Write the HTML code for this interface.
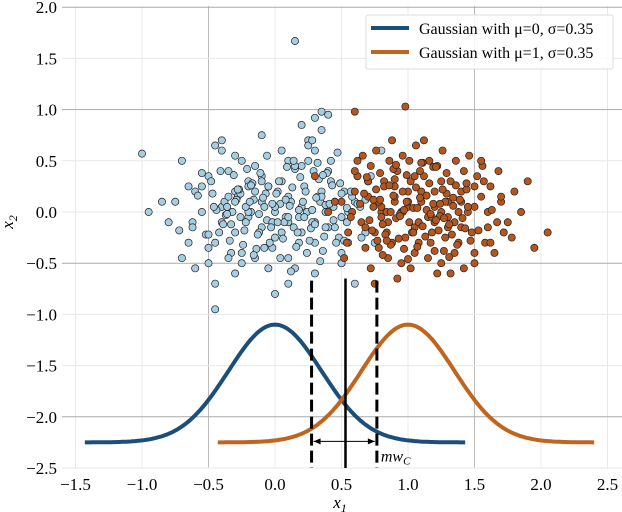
<!DOCTYPE html>
<html><head><meta charset="utf-8">
<style>
body{margin:0;background:#fff;}
svg{display:block;font-family:"Liberation Serif",serif;}
</style></head>
<body>
<svg id="chart" width="622" height="512" viewBox="0 0 622 512" xmlns="http://www.w3.org/2000/svg">
<g id="grid"></g>
<g id="ticks"></g>
<g id="pts"></g>
<g id="curves"></g>
<g id="marks"></g>
<text x="340" y="508" font-size="17" font-style="italic" text-anchor="middle">x<tspan font-size="12" dy="4">1</tspan></text>
<text transform="translate(13,222) rotate(-90)" font-size="17" font-style="italic" text-anchor="middle">x<tspan font-size="12" dy="4">2</tspan></text>
<g>
<rect x="366" y="15" width="247" height="54" fill="#fff" fill-opacity="0.85" stroke="#ddd" rx="2"/>
<line x1="371" y1="28" x2="409" y2="28" stroke="#1b4f7a" stroke-width="4"/>
<text x="419" y="34" font-size="16">Gaussian with μ=0, σ=0.35</text>
<line x1="371" y1="52" x2="409" y2="52" stroke="#c0651f" stroke-width="4"/>
<text x="419" y="58" font-size="16">Gaussian with μ=1, σ=0.35</text>
</g>
</svg>
<script>
const xTicks=[-1.5,-1.0,-0.5,0.0,0.5,1.0,1.5,2.0,2.5];
const yTicks=[2.0,1.5,1.0,0.5,0.0,-0.5,-1.0,-1.5,-2.0,-2.5];
const gaussMu=[0,1];
const gaussSigma=[0.35,0.35];
const gaussPeak=[-1.1,-1.1];
const gaussBase=[-2.25,-2.25];
const gaussRange=[[-1.43,1.43],[-0.43,2.4]];
const thresholds=[0.275,0.53,0.766];
const thresholdTop=[-0.67,-0.65,-0.67];
const arrowY=-2.24;
const blueX=[-1.0,0.15,0.35,0.4,0.3,-0.45,-0.45,-0.7,-0.62,-0.4,-0.3,-0.2,-0.1,0.0,0.1,0.2,0.3,-0.5,-0.35,-0.25,-0.15,-0.05,0.05,0.15,0.25,0.35,0.45,0.55,-0.6,-0.55,-0.4,-0.3,-0.2,-0.1,0.0,0.1,0.2,0.3,0.4,0.5,0.6,-0.75,-0.65,-0.5,-0.38,-0.28,-0.18,-0.08,0.02,0.12,0.22,0.32,0.42,0.52,0.62,0.7,-0.8,-0.55,-0.45,-0.33,-0.22,-0.12,-0.02,0.08,0.18,0.28,0.38,0.48,0.58,0.68,-0.7,-0.6,-0.48,-0.36,-0.26,-0.16,-0.06,0.04,0.14,0.24,0.34,0.44,0.54,0.64,-0.5,-0.4,-0.3,-0.2,-0.1,0.0,0.1,0.2,0.3,0.4,0.5,-0.45,-0.35,-0.25,-0.15,-0.05,0.05,0.15,0.25,0.35,-0.55,-0.3,-0.1,0.1,0.3,0.5,0.6,0.75,0.8,-0.2,0.0,0.2,-0.4,0.45,-0.65,0.55,0.25,-0.15,0.05,0.15,-0.35,0.35,-0.05,-0.25,0.65,0.72,-0.85,-0.95,0.5,0.38,0.1,-0.02,0.28,
-0.42,-0.32,-0.22,-0.12,-0.02,0.08,0.18,0.28,0.38,-0.37,-0.27,-0.17,-0.07,0.03,0.13,0.23,0.33,0.43,-0.47,-0.33,-0.23,-0.13,-0.03,0.07,0.17,0.27,0.37,-0.39,-0.29,-0.19,-0.09,0.01,0.11,0.21,0.31,0.41,-0.44,-0.34,-0.24,-0.14,-0.04,0.06,0.16,0.26,0.36,0.46,-0.52,-0.41,-0.31,-0.21,-0.11,0.09,0.19,0.29,0.39,0.49,-0.58,-0.26,-0.16,0.04,0.24,0.34,0.44,0.54,-0.36,-0.06,0.14,0.32,0.47,-0.46,-0.28,-0.08,0.12,0.22,0.42,0.57,-0.62,-0.18,0.02,0.18,0.36,0.52,0.62,-0.72,-0.5,-0.3,-0.1,0.1,0.3,0.5,0.68];
const blueY=[0.57,1.67,0.98,0.95,0.92,-0.7,-0.95,-0.45,-0.1,0.05,0.2,0.3,0.1,0.0,0.15,0.05,-0.1,0.35,0.4,0.5,0.45,0.25,0.3,0.42,0.5,0.2,0.1,0.0,0.2,0.0,-0.1,-0.2,-0.05,-0.15,-0.25,-0.1,-0.2,-0.3,-0.15,-0.05,0.1,0.1,-0.3,-0.35,0.1,0.15,0.0,0.05,0.2,0.1,0.25,0.15,0.3,0.2,0.35,0.3,-0.1,0.25,-0.3,-0.4,-0.1,-0.2,-0.35,-0.05,-0.3,-0.1,0.0,-0.25,0.15,-0.2,0.5,-0.55,0.3,0.05,0.18,0.12,-0.08,0.08,-0.15,0.0,0.1,0.05,-0.1,0.05,-0.5,0.6,0.55,0.25,0.35,0.05,-0.45,0.45,0.6,0.4,-0.4,0.65,0.15,-0.5,-0.45,-0.55,0.6,-0.55,0.7,0.8,0.38,-0.6,0.75,0.5,-0.6,-0.5,-0.7,-0.3,0.6,0.0,-0.8,0.85,0.7,-0.15,0.25,-0.3,0.65,0.2,-0.2,0.45,-0.45,0.15,0.25,-0.4,-0.25,0.35,0.1,0.0,-0.5,-0.15,-0.7,-0.1,0.7,-0.2,
0.0,0.05,-0.02,0.08,0.12,-0.05,0.02,0.07,-0.03,0.22,0.28,0.18,0.3,0.24,0.2,0.32,0.26,0.18,-0.12,-0.18,-0.22,-0.15,-0.1,-0.2,-0.16,-0.24,-0.12,0.12,0.1,0.14,0.18,0.06,0.1,0.14,0.08,0.02,-0.28,-0.32,-0.36,-0.3,-0.26,-0.34,-0.28,-0.38,-0.3,-0.22,0.4,0.36,0.42,0.38,0.44,0.34,0.4,0.38,0.28,0.16,-0.05,-0.42,-0.45,-0.4,-0.48,-0.08,0.04,-0.02,0.55,0.5,0.48,0.58,0.05,0.22,-0.35,-0.58,-0.05,0.5,0.2,-0.15,0.26,-0.1,0.02,0.36,-0.28,0.08,-0.18,-0.22,0.1,0.3,-0.05,-0.12,0.18,0.12,-0.25,-0.02,-0.35,0.25];
const orangeX=[0.98,0.6,1.6,2.05,1.65,1.5,0.75,0.5,0.6,0.7,0.8,0.9,1.0,1.1,1.2,1.3,1.4,1.5,0.55,0.65,0.75,0.85,0.95,1.05,1.15,1.25,1.35,1.45,1.55,1.7,0.62,0.72,0.82,0.92,1.02,1.12,1.22,1.32,1.42,1.52,1.62,0.45,0.68,0.78,0.88,0.98,1.08,1.18,1.28,1.38,1.48,1.58,1.75,0.58,0.7,0.8,0.9,1.0,1.1,1.2,1.3,1.4,1.5,1.8,0.66,0.76,0.86,0.96,1.06,1.16,1.26,1.36,1.46,1.56,0.85,0.95,1.05,1.15,1.25,1.35,0.72,0.82,1.32,1.42,1.85,1.9,0.4,0.3,0.52,1.12,0.88,1.22,1.02,0.92,1.62,1.68,1.78,0.78,1.45,1.08,0.96,1.18,1.28,0.68,0.84,1.38,1.72,0.62,1.55,1.95,1.0,1.1,0.9,1.2,0.8,1.3,1.4,0.7,1.05,1.25,
0.74,0.84,0.94,1.04,1.14,1.24,1.34,0.79,0.89,0.99,1.09,1.19,1.29,1.39,0.71,0.81,0.91,1.01,1.11,1.21,1.31,1.41,0.76,0.86,0.96,1.06,1.16,1.26,1.36,0.73,0.83,0.93,1.03,1.13,1.23,1.33,1.43,0.64,0.77,0.87,0.97,1.07,1.17,1.27,1.37,1.47,0.69,0.79,0.89,0.99,1.09,1.19,1.29,0.57,0.67,1.53,1.63,1.44,0.91,1.01,1.11,1.21,0.81,1.31,0.87,1.07,1.17,0.97,1.27,1.57,1.67,0.54,0.74,1.34,1.14,0.94,1.04,1.24,0.84,1.44,1.6,1.7,0.6,1.5,0.9,1.2,1.0,1.1];
const orangeY=[1.03,0.98,0.0,-0.2,-0.4,-0.5,-0.7,0.1,0.2,0.3,0.0,0.1,0.2,0.15,0.05,-0.05,0.1,0.25,-0.2,-0.1,-0.2,-0.1,0.0,-0.15,-0.05,0.0,-0.1,0.0,0.15,0.1,0.35,0.45,0.3,0.4,0.3,0.35,0.45,0.3,0.4,0.35,0.25,0.1,-0.35,-0.35,-0.3,-0.25,-0.3,-0.2,-0.25,-0.3,-0.2,-0.3,-0.1,0.0,0.15,0.05,0.15,0.05,0.1,0.2,0.1,0.2,0.05,0.2,0.55,0.6,0.5,0.55,0.65,0.5,0.6,0.5,0.55,0.45,-0.45,-0.5,-0.4,-0.45,-0.5,-0.4,-0.55,0.25,-0.6,-0.55,0.0,0.3,0.0,0.35,-0.45,0.7,0.7,-0.6,-0.55,-0.65,-0.3,0.4,-0.25,0.1,0.05,-0.1,0.0,-0.05,0.1,-0.15,-0.2,0.0,-0.2,0.5,0.5,-0.35,0.1,0.2,0.25,-0.1,-0.05,-0.15,-0.15,0.3,0.35,0.3,
0.05,0.0,-0.02,0.04,0.02,-0.04,0.06,0.12,0.16,0.1,0.14,0.08,0.18,0.12,-0.08,-0.12,-0.06,-0.1,-0.14,-0.08,-0.12,-0.06,0.22,0.26,0.2,0.24,0.28,0.22,0.26,-0.18,-0.22,-0.26,-0.2,-0.24,-0.18,-0.22,-0.16,0.08,-0.28,-0.32,-0.36,-0.34,-0.3,-0.38,-0.32,-0.28,0.34,0.38,0.42,0.36,0.4,0.44,0.38,-0.05,0.18,-0.18,0.02,0.22,0.46,0.5,0.48,0.44,-0.42,-0.44,0.0,0.04,-0.02,0.02,-0.06,0.3,-0.1,-0.3,0.12,0.14,0.16,-0.04,-0.2,0.08,-0.28,0.28,-0.15,0.15,0.4,-0.4,0.32,-0.38,-0.46,0.48];
const NS='http://www.w3.org/2000/svg';
const X=v=>275+133*v, Y=v=>212-102.4*v;
function mk(tag,parent,attrs){const e=document.createElementNS(NS,tag);for(const k in attrs)e.setAttribute(k,attrs[k]);parent.appendChild(e);return e;}
const grid=document.getElementById('grid'),ticks=document.getElementById('ticks');
const darkX=[2,6],darkY=[0,2,5,8];
xTicks.forEach((t,i)=>{const l=mk('line',grid,{x1:X(t),x2:X(t),y1:6,y2:468,stroke:darkX.includes(i)?'#bbb':'#e8e8e8','stroke-width':1});


const tx=mk('text',ticks,{x:X(t),y:490,'font-size':17,'text-anchor':'middle'});tx.textContent=(t<0?'\u2212':'')+Math.abs(t).toFixed(1);

});
yTicks.forEach((t,i)=>{const l=mk('line',grid,{x1:62,x2:622,y1:Y(t),y2:Y(t),stroke:darkY.includes(i)?'#aaa':'#e8e8e8','stroke-width':1});


const tx=mk('text',ticks,{x:57,y:Y(t)+6,'font-size':17,'text-anchor':'end'});tx.textContent=(t<0?'\u2212':'')+Math.abs(t).toFixed(1);

});
const pts=document.getElementById('pts');
function drawPts(xs,ys,fill,name){xs.forEach((x,i)=>{const c=mk('circle',pts,{cx:X(x),cy:Y(ys[i]),r:3.6,fill:fill,stroke:'#222','stroke-width':0.7});

});}
drawPts(blueX,blueY,'#a6cee3','blue-point');
drawPts(orangeX,orangeY,'#b5561f','orange-point');
const curves=document.getElementById('curves');const cols=['#1b4f7a','#c0651f'];
gaussMu.forEach((mu,k)=>{let d='';const [a,b]=gaussRange[k];for(let i=0;i<=200;i++){const x=a+(b-a)*i/200;const y=gaussBase[k]+(gaussPeak[k]-gaussBase[k])*Math.exp(-((x-mu)**2)/(2*gaussSigma[k]**2));d+=(i?'L':'M')+X(x).toFixed(1)+' '+Y(y).toFixed(1);}
const p=mk('path',curves,{d:d,fill:'none',stroke:cols[k],'stroke-width':4});

});
const marks=document.getElementById('marks');
thresholds.forEach((t,i)=>{const l=mk('line',marks,{x1:X(t),x2:X(t),y1:Y(thresholdTop[i]),y2:468,stroke:'#000','stroke-width':i===1?2.5:3,'stroke-dasharray':i===1?'':'12 5'});

});
const ay=Y(arrowY);
const ar=mk('line',marks,{x1:X(thresholds[0])+2,x2:X(thresholds[2])-2,y1:ay,y2:ay,stroke:'#000','stroke-width':1});


const ah=mk('path',marks,{d:`M${X(thresholds[0])+2} ${ay}l7 -3v6zM${X(thresholds[2])-2} ${ay}l-7 -3v6z`,fill:'#000'});


const lb=mk('text',marks,{x:X(thresholds[2])+4,y:ay+20,'font-size':16,'font-style':'italic'});lb.innerHTML='mw<tspan font-size="11" dy="3">C</tspan>';


</script>
</body></html>
